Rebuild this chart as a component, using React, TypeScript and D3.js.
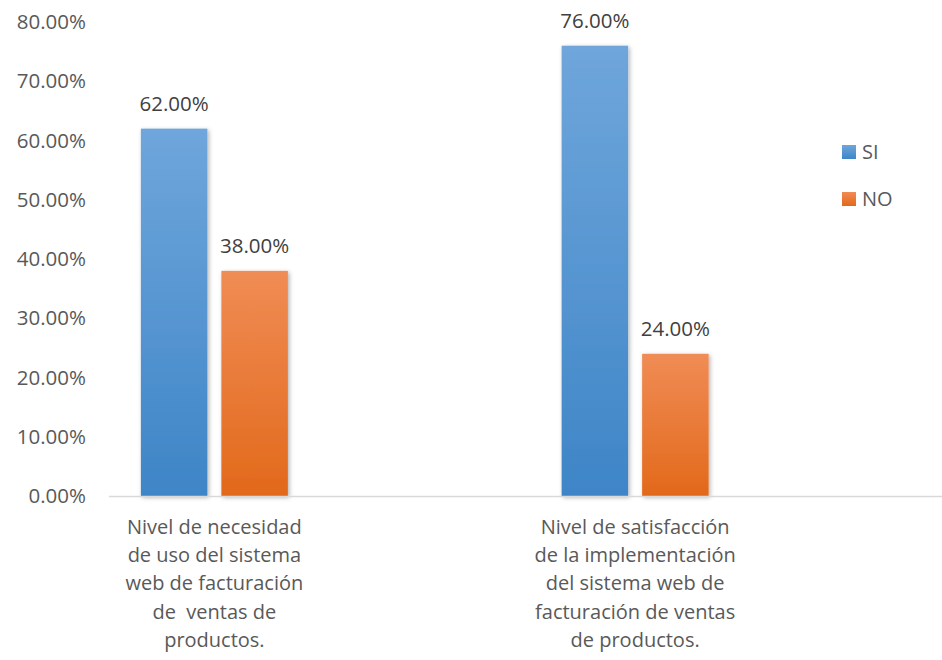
import React from "react";
import * as d3 from "d3";

const categories: string[][] = [
  ["Nivel de necesidad", "de uso del sistema", "web de facturación", "de  ventas de", "productos."],
  ["Nivel de satisfacción", "de la implementación", "del sistema web de", "facturación de ventas", "de productos."],
];
const seriesNames = ["SI", "NO"];
const siValues = [62, 76];
const noValues = [38, 24];
const yTicks = [0, 10, 20, 30, 40, 50, 60, 70, 80];

const W = 942;
const H = 660;
const FONT = "'Open Sans', sans-serif";
const TXT = "#595959";

export default function App() {
  const y = d3.scaleLinear().domain([0, 80]).range([496, 22]);
  const x0 = d3.scaleBand<number>().domain([0, 1]).range([4, 845.5]);
  const x1 = d3.scaleBand<string>().domain(seriesNames).range([-73.5, 73.5]).paddingInner(0.174);
  const vals = [siValues, noValues];
  const grads = ["gSI", "gNO"];
  const fmt = (v: number) => v.toFixed(2) + "%";

  return (
    <svg width={W} height={H} style={{ position: "absolute", left: 0, top: 0, background: "#fff" }}>
      <defs>
        <linearGradient id="gSI" x1="0" y1="0" x2="0" y2="1">
          <stop offset="0" stopColor="#6FA6DB" />
          <stop offset="1" stopColor="#3E85C7" />
        </linearGradient>
        <linearGradient id="gNO" x1="0" y1="0" x2="0" y2="1">
          <stop offset="0" stopColor="#F08C55" />
          <stop offset="1" stopColor="#E2691B" />
        </linearGradient>
        <filter id="sh" x="-20%" y="-10%" width="140%" height="120%">
          <feDropShadow dx="1.5" dy="1.5" stdDeviation="2" floodColor="#000" floodOpacity="0.3" />
        </filter>
      </defs>
      {/* y tick labels */}
      {yTicks.map((t) => (
        <text key={t} x={86} y={y(t)} dy="0.35em" textAnchor="end" fontFamily={FONT} fontSize={20.5} fill={TXT}>
          {fmt(t)}
        </text>
      ))}
      {/* bars */}
      {categories.map((_, ci) =>
        seriesNames.map((s, si) => {
          const cx = (x0(ci) as number) + x0.bandwidth() / 2;
          const bx = cx + (x1(s) as number);
          const v = vals[si][ci];
          return (
            <g key={ci + s}>
              <rect x={bx} y={y(v)} width={x1.bandwidth()} height={y(0) - y(v)} fill={`url(#${grads[si]})`} filter="url(#sh)" />
              <text x={bx + x1.bandwidth() / 2} y={y(v) - 18} textAnchor="middle" fontFamily={FONT} fontSize={20.5} fill="#404040">
                {fmt(v)}
              </text>
            </g>
          );
        })
      )}
      {/* axis line */}
      <line x1={109} x2={942} y1={y(0) + 0.5} y2={y(0) + 0.5} stroke="#D9D9D9" strokeWidth={1.5} />
      {/* category labels */}
      {categories.map((lines, ci) => {
        const cx = (x0(ci) as number) + x0.bandwidth() / 2;
        return (
          <text key={ci} textAnchor="middle" fontFamily={FONT} fontSize={20} fill={TXT} style={{ whiteSpace: "pre" }}>
            {lines.map((l, li) => (
              <tspan key={li} x={cx} y={534 + li * 28.2}>
                {l}
              </tspan>
            ))}
          </text>
        );
      })}
      {/* legend */}
      {seriesNames.map((s, i) => (
        <g key={s} transform={`translate(842, ${145 + i * 47})`}>
          <rect width={14} height={14} fill={`url(#${grads[i]})`} />
          <text x={20} y={7} dy="0.35em" fontFamily={FONT} fontSize={20} fill={TXT}>
            {s}
          </text>
        </g>
      ))}
    </svg>
  );
}
